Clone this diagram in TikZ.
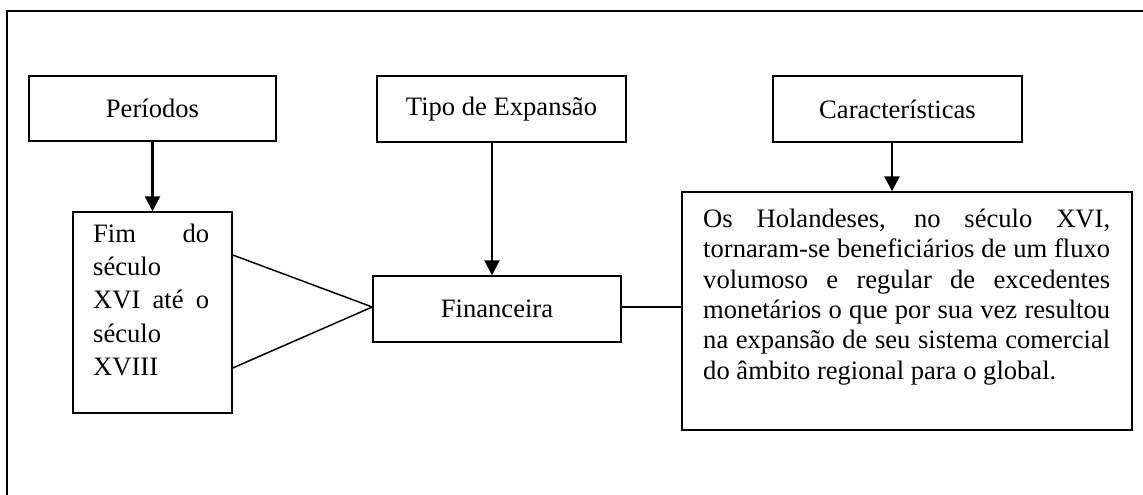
\documentclass[tikz,border=0pt]{standalone}
\usepackage{fontspec}
\setmainfont{Liberation Serif}
\usetikzlibrary{arrows.meta}
\tikzset{
  box/.style={draw, line width=1.5pt, inner sep=0pt, font={\fontsize{26.6}{28.3}\selectfont}},
  txt/.style={inner sep=0pt, anchor=north west, align=left},
  arr/.style={line width=2.6pt, -{Triangle[length=15pt,width=15pt]}},
  link/.style={line width=1.5pt},
  frame/.style={line width=2pt}
}
\begin{document}
\begin{tikzpicture}[x=1pt,y=-1pt]
\useasboundingbox (0,0) rectangle (1143,495);
\coordinate (fa) at (7,495);
\coordinate (fb) at (7,11);
\coordinate (fc) at (1143,11);
\draw[frame] (fa) -- (fb) -- (fc);

\node[box, minimum width=247pt, minimum height=65pt] (per) at (152.5,108.5) {Períodos};
\node[box, minimum width=249pt, minimum height=66pt] (tipo) at (501.5,109) {Tipo de Expansão};
\node[box, minimum width=249pt, minimum height=66pt] (car) at (897.5,109) {Características};

\node[box, minimum width=159pt, minimum height=201pt] (fim) at (152.5,312.5) {};
\node[txt, font={\fontsize{26.6}{33.3}\selectfont}] (fimtxt) at (93,222)
  {\rule{0pt}{20pt}\makebox[116pt][s]{Fim do}\\século\\\makebox[116pt][s]{XVI até o}\\século\\XVIII};

\node[box, minimum width=248pt, minimum height=66pt] (fin) at (497,309) {Financeira};

\node[box, minimum width=450pt, minimum height=238pt] (big) at (907,311) {};
\node[txt, font={\fontsize{26.6}{30.4}\selectfont}] (bigtxt) at (703,207)
  {\rule{0pt}{20pt}\makebox[407pt][s]{Os Holandeses, no século XVI,}\\
   \makebox[407pt][s]{tornaram-se beneficiários de um fluxo}\\
   \makebox[407pt][s]{volumoso e regular de excedentes}\\
   \makebox[407pt][s]{monetários o que por sua vez resultou}\\
   \makebox[407pt][s]{na expansão de seu sistema comercial}\\
   do âmbito regional para o global.};

\draw[arr] (per.south -| fim.north) -- (fim.north);
\draw[arr] ([xshift=-5pt]fin.north |- tipo.south) -- ([xshift=-5pt]fin.north);
\draw[arr] ([xshift=-5.5pt]car.south) -- ([xshift=-5.5pt]car.south |- big.north);

\draw[link] ([yshift=57.5pt]fim.east) -- ([yshift=2pt]fin.west);
\draw[link] ([yshift=-55.5pt]fim.east) -- ([yshift=2pt]fin.west);
\draw[link] ([yshift=2pt]fin.east) -- ([yshift=2pt]fin.east -| big.west);
\end{tikzpicture}
\end{document}
